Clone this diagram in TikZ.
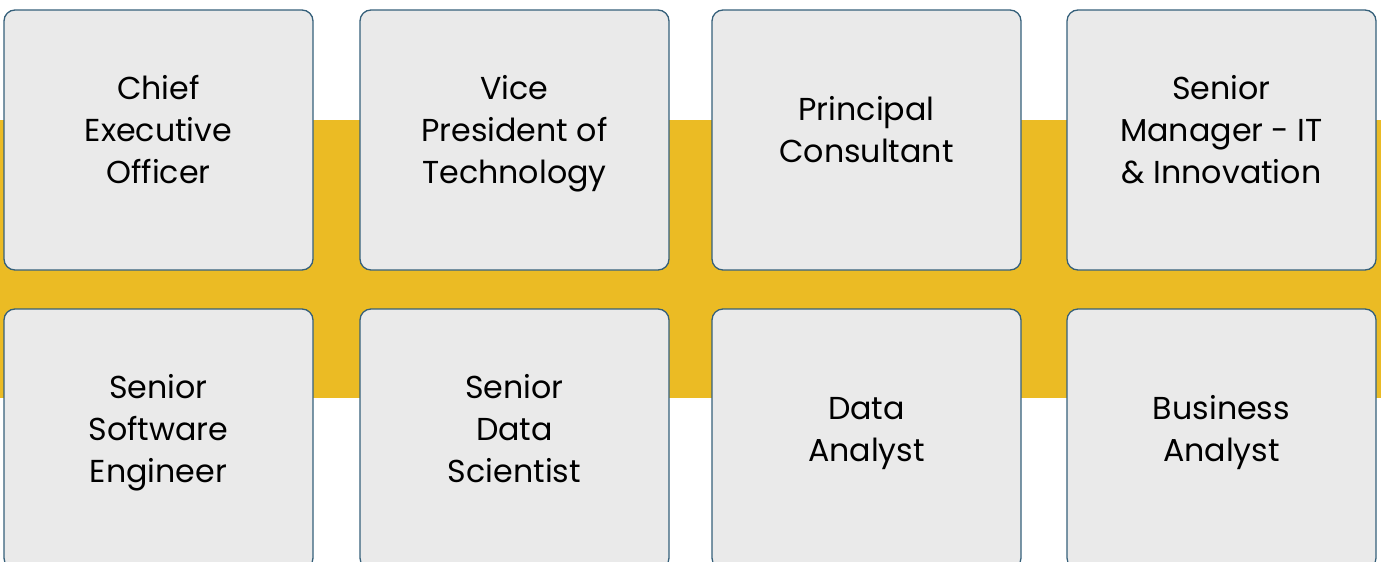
\documentclass[tikz,border=0pt]{standalone}
\usepackage{fontspec}
\setmainfont{Poppins}
\usetikzlibrary{positioning}
\definecolor{bandyellow}{HTML}{EBBB24}
\definecolor{boxgray}{HTML}{EAEAEA}
\definecolor{boxedge}{HTML}{35607A}
\tikzset{
  rolebox/.style={draw=boxedge, fill=boxgray, line width=1.3pt, rounded corners=11pt,
    minimum width=309pt, minimum height=260pt, inner sep=0pt},
  roletext/.style={align=center, anchor=base, inner sep=0pt,
    font=\fontsize{31.7}{42}\selectfont, text=black}
}
\begin{document}
\begin{tikzpicture}[x=1pt,y=-1pt]
\useasboundingbox (0,0) rectangle (1381,562);
\clip (0,0) rectangle (1381,562);
\fill[bandyellow] (0,120) rectangle (1381,398);
% top row
\foreach \x/\n/\name/\txt in {158.5/3/ceo/{Chief\\Executive\\Officer},
  514.5/3/vpt/{Vice\\President of\\Technology},
  866.5/2/pc/{Principal\\Consultant},
  1221.5/3/smit/{Senior\\Manager - IT\\\& Innovation}} {
  \node[rolebox] (\name) at (\x,140) {};
  \node[roletext] (\name-t) at ([yshift=-(\n-1)*21pt-1pt]\name.center) {\txt};
}
% bottom row
\foreach \x/\n/\name/\txt in {158.5/3/sse/{Senior\\Software\\Engineer},
  514.5/3/sds/{Senior\\Data\\Scientist},
  866.5/2/da/{Data\\Analyst},
  1221.5/2/ba/{Business\\Analyst}} {
  \node[rolebox] (\name) at (\x,439) {};
  \node[roletext] (\name-t) at ([yshift=-(\n-1)*21pt-1pt]\name.center) {\txt};
}
\end{tikzpicture}
\end{document}
